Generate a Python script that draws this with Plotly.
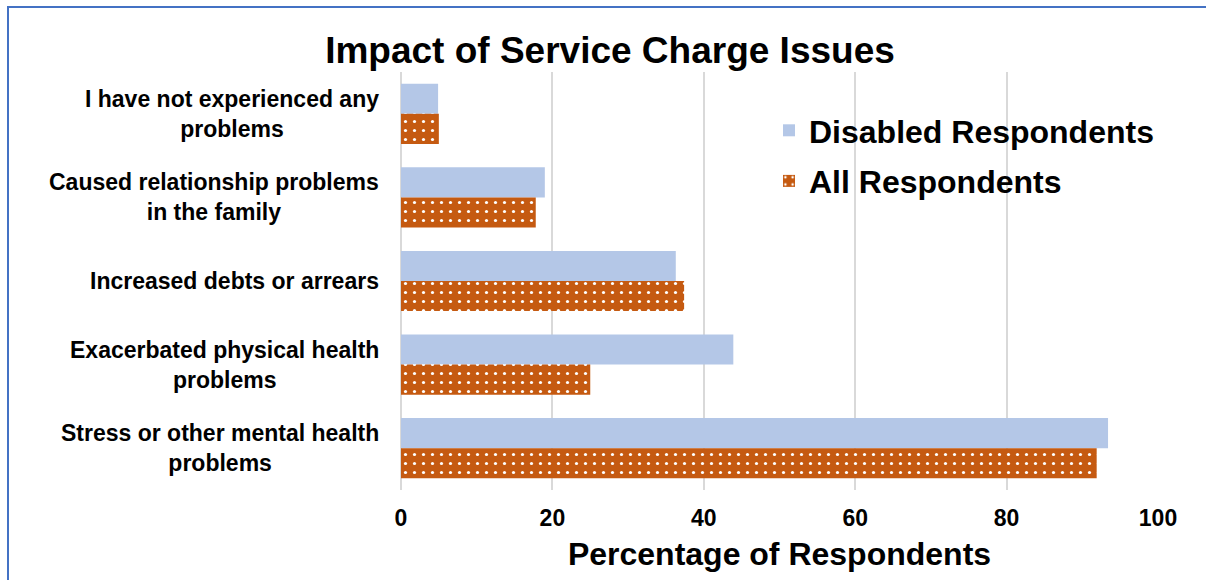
import plotly.graph_objects as go

# Survey outcomes, listed top to bottom as drawn
categories = [
    "I have not experienced any<br>problems",
    "Caused relationship problems<br>in the family",
    "Increased debts or arrears",
    "Exacerbated physical health<br>problems",
    "Stress or other mental health<br>problems",
]
disabled_pct = [4.9, 19.0, 36.3, 43.9, 93.4]
all_pct = [5.0, 17.8, 37.4, 25.0, 91.9]
x_ticks = [0, 20, 40, 60, 80, 100]

FONT = "Liberation Sans, Arial, sans-serif"
BLUE = "#B4C7E7"
ORANGE = "#C55A11"

W, H = 1206, 580
ML, MR, MT, MB = 401, 48, 72, 90
PW = W - ML - MR
PH = H - MT - MB


def px_x(px):
    return (px - ML) / PW


def px_y(py):
    return (H - MB - py) / PH


fig = go.Figure()
fig.add_trace(go.Bar(
    y=categories, x=disabled_pct, orientation="h",
    name="<b>Disabled Respondents</b>", legendgroup="d",
    marker=dict(color=BLUE, line=dict(width=0)),
))
fig.add_trace(go.Bar(
    y=categories, x=all_pct, orientation="h",
    name="<b>All Respondents</b>", legendgroup="a",
    marker=dict(
        color=ORANGE, line=dict(width=0),
        pattern=dict(shape=".", fgcolor="white", bgcolor=ORANGE,
                     size=9, solidity=0.1, fillmode="replace"),
    ),
))

# Category labels: centred lines, right-aligned block beside the axis
for cat in categories:
    fig.add_annotation(
        x=px_x(381), xref="paper", xanchor="right",
        y=cat, yref="y", yanchor="middle",
        text=f"<b>{cat}</b>", showarrow=False, align="center",
        font=dict(family=FONT, size=23, color="black"),
    )

# Blue frame around the chart
fig.add_shape(
    type="rect", xref="paper", yref="paper",
    x0=px_x(8), x1=px_x(W + 20),
    y0=px_y(H + 20), y1=px_y(7),
    line=dict(color="#4472C4", width=2), fillcolor="rgba(0,0,0,0)",
    layer="below",
)

fig.update_layout(
    width=W, height=H,
    margin=dict(l=ML, r=MR, t=MT, b=MB),
    paper_bgcolor="white", plot_bgcolor="white",
    barmode="group", bargap=0.28, bargroupgap=0,
    title=dict(
        text="<b>Impact of Service Charge Issues</b>",
        x=610 / W, xanchor="center", y=1 - 50 / H, yanchor="middle",
        font=dict(family=FONT, size=37, color="black"),
    ),
    xaxis=dict(
        range=[0, 100], tickvals=x_ticks, ticktext=[f"<b>{v}</b>" for v in x_ticks],
        showgrid=True, gridcolor="#D9D9D9", gridwidth=2,
        zeroline=True, zerolinecolor="#D9D9D9", zerolinewidth=2,
        showline=False, ticks="", ticklen=0, ticklabelstandoff=12,
        tickfont=dict(family=FONT, size=23, color="black"),
        title=dict(text="<b>Percentage of Respondents</b>", standoff=12,
                   font=dict(family=FONT, size=32, color="black")),
        fixedrange=True,
    ),
    yaxis=dict(
        autorange="reversed", showticklabels=False, showgrid=False,
        showline=False, ticks="", fixedrange=True,
    ),
    legend=dict(
        x=px_x(769), xanchor="left",
        y=px_y(103), yanchor="top",
        bgcolor="rgba(0,0,0,0)",
        font=dict(family=FONT, size=32, color="black"),
        traceorder="grouped", tracegroupgap=6,
        itemsizing="constant",
    ),
    showlegend=True,
)

fig.write_html("out.html")
